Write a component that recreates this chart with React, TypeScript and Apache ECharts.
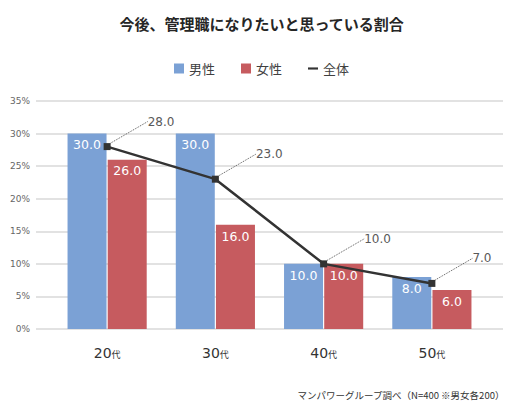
import React, { useEffect, useRef } from "react";
import * as echarts from "echarts";

const categories = ["20", "30", "40", "50"];
const maleValues = [30, 30, 10, 8];
const femaleValues = [26, 16, 10, 6];
const totalValues = [28, 23, 10, 7];
const yTicks = [0, 5, 10, 15, 20, 25, 30, 35];

const titleText = "今後、管理職になりたいと思っている割合";
const sourceText = "マンパワーグループ調べ（N=400 ※男女各200）";

const JP = "'Noto Sans CJK JP', sans-serif";
const NUM = "'DejaVu Sans', 'Noto Sans CJK JP', sans-serif";

export default function App() {
  const ref = useRef<HTMLDivElement>(null);
  useEffect(() => {
    if (!ref.current) return;
    const chart = echarts.init(ref.current, null, { renderer: "svg" });
    const top = 101;
    const bottom = 83;
    chart.setOption({
      animation: false,
      backgroundColor: "#ffffff",
      title: {
        text: titleText,
        left: "center",
        top: 11,
        textStyle: { fontFamily: JP, fontSize: 15, fontWeight: "bold", color: "#262626" },
      },
      legend: {
        top: 57,
        left: "center",
        itemGap: 26,
        itemWidth: 10,
        itemHeight: 10,
        textStyle: { fontFamily: JP, fontSize: 13, color: "#404040" },
        data: [
          { name: "男性", icon: "rect" },
          { name: "女性", icon: "rect" },
          { name: "全体", icon: "path://M0,0 L14,0 L14,3 L0,3 Z", itemStyle: { color: "#333333" } },
        ],
      },
      grid: [
        { left: 36, right: 20, top, bottom },
        { left: 53, right: 37, top, bottom },
      ],
      xAxis: [
        { gridIndex: 0, type: "value", show: false, min: 0, max: 1 },
        {
          gridIndex: 1,
          type: "category",
          data: categories,
          axisLine: { show: false },
          axisTick: { show: false },
          axisLabel: {
            margin: 17,
            formatter: (v: string) => `{a|${v}}{b|代}`,
            rich: {
              a: { fontFamily: NUM, fontSize: 14, color: "#333333" },
              b: { fontFamily: JP, fontSize: 9, color: "#333333", padding: [3, 0, 0, 0] },
            },
          },
        },
      ],
      yAxis: [
        {
          gridIndex: 0,
          type: "value",
          min: yTicks[0],
          max: yTicks[yTicks.length - 1],
          interval: 5,
          axisLine: { show: false },
          axisTick: { show: false },
          axisLabel: { formatter: "{value}%", margin: 6, fontFamily: NUM, fontSize: 9, color: "#666666" },
          splitLine: { lineStyle: { color: "#d9d9d9", width: 1.5 } },
        },
        {
          gridIndex: 1,
          type: "value",
          min: yTicks[0],
          max: yTicks[yTicks.length - 1],
          interval: 5,
          show: false,
          splitLine: { show: false },
        },
      ],
      series: [
        {
          name: "男性",
          type: "bar",
          xAxisIndex: 1,
          yAxisIndex: 1,
          data: maleValues,
          barWidth: 39,
          barGap: "3%",
          itemStyle: { color: "#7BA1D5" },
          label: {
            show: true,
            position: "insideTop",
            distance: 5,
            formatter: (p: any) => p.value.toFixed(1),
            fontFamily: NUM,
            fontSize: 12.5,
            color: "#ffffff",
          },
        },
        {
          name: "女性",
          type: "bar",
          xAxisIndex: 1,
          yAxisIndex: 1,
          data: femaleValues,
          barWidth: 39,
          barGap: "3%",
          itemStyle: { color: "#C65B5F" },
          label: {
            show: true,
            position: "insideTop",
            distance: 5,
            formatter: (p: any) => p.value.toFixed(1),
            fontFamily: NUM,
            fontSize: 12.5,
            color: "#ffffff",
          },
        },
        {
          name: "全体",
          type: "line",
          xAxisIndex: 1,
          yAxisIndex: 1,
          data: totalValues,
          symbol: "rect",
          symbolSize: 7,
          itemStyle: { color: "#333333" },
          lineStyle: { color: "#333333", width: 2.5 },
          z: 5,
          label: {
            show: true,
            position: "right",
            distance: 2,
            formatter: (p: any) => p.value.toFixed(1),
            fontFamily: NUM,
            fontSize: 12,
            color: "#595959",
          },
          labelLayout: { dx: 35, dy: -25 },
          labelLine: { show: true, lineStyle: { color: "#595959", width: 1, type: "dotted" } },
        },
      ],
      graphic: [
        {
          type: "text",
          right: 18,
          top: 390,
          style: { text: sourceText, fontFamily: JP, fontSize: 9.5, fill: "#333333" },
        },
      ],
    });
    return () => chart.dispose();
  }, []);
  return (
    <div
      ref={ref}
      style={{ position: "fixed", left: 0, top: 0, width: 523, height: 412 }}
    />
  );
}
